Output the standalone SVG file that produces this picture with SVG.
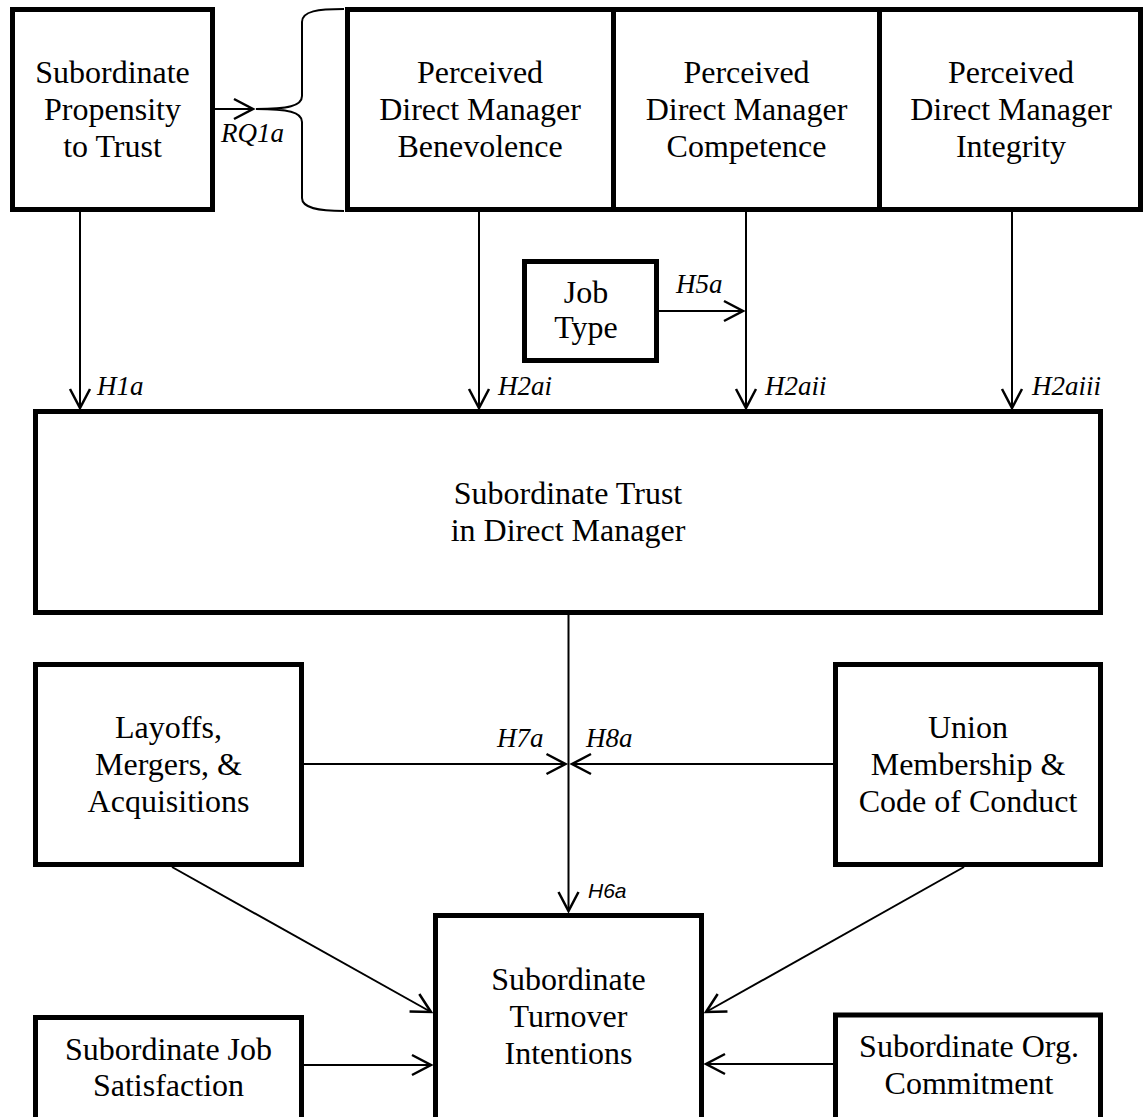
<svg xmlns="http://www.w3.org/2000/svg" width="1145" height="1117" viewBox="0 0 1145 1117">
  <defs>
    <style>
      .box { fill: #ffffff; stroke: #000000; stroke-width: 5; }
      .node-text { font-family: "Liberation Serif", "Times New Roman", serif; font-size: 32px; fill: #000000; text-anchor: middle; }
      .edge { stroke: #000000; stroke-width: 2; fill: none; }
      .label { font-family: "Liberation Serif", "Times New Roman", serif; font-style: italic; font-size: 27px; fill: #000000; }
      .label-sans { font-family: "Liberation Sans", Arial, sans-serif; font-style: italic; font-size: 21px; fill: #000000; }
    </style>
    <marker id="open-arrow" markerUnits="userSpaceOnUse" viewBox="-22 -12 24 24" markerWidth="24" markerHeight="24" refX="0" refY="0" orient="auto" overflow="visible">
      <path d="M -19 -10 L 0 0 L -19 10" fill="none" stroke="#000000" stroke-width="2.5"/>
    </marker>
  </defs>

  <rect width="1145" height="1117" fill="#ffffff"/>

  <!-- nodes -->
  <g id="propensity">
    <rect class="box" x="12.5" y="9.5" width="200" height="200"/>
    <text class="node-text" x="112.5" y="83">Subordinate</text>
    <text class="node-text" x="112.5" y="120">Propensity</text>
    <text class="node-text" x="112.5" y="157">to Trust</text>
  </g>

  <g id="benevolence">
    <rect class="box" x="347.5" y="9.5" width="266" height="200"/>
    <text class="node-text" x="480" y="83">Perceived</text>
    <text class="node-text" x="480" y="120">Direct Manager</text>
    <text class="node-text" x="480" y="157">Benevolence</text>
  </g>

  <g id="competence">
    <rect class="box" x="613.5" y="9.5" width="266" height="200"/>
    <text class="node-text" x="746.5" y="83">Perceived</text>
    <text class="node-text" x="746.5" y="120">Direct Manager</text>
    <text class="node-text" x="746.5" y="157">Competence</text>
  </g>

  <g id="integrity">
    <rect class="box" x="879.5" y="9.5" width="261" height="200"/>
    <text class="node-text" x="1011" y="83">Perceived</text>
    <text class="node-text" x="1011" y="120">Direct Manager</text>
    <text class="node-text" x="1011" y="157">Integrity</text>
  </g>

  <g id="job-type">
    <rect class="box" x="524.5" y="261.5" width="132" height="99"/>
    <text class="node-text" x="586" y="303">Job</text>
    <text class="node-text" x="586" y="338">Type</text>
  </g>

  <g id="trust">
    <rect class="box" x="35.5" y="411.5" width="1065" height="201"/>
    <text class="node-text" x="568" y="504">Subordinate Trust</text>
    <text class="node-text" x="568" y="541">in Direct Manager</text>
  </g>

  <g id="layoffs">
    <rect class="box" x="35.5" y="664.5" width="266" height="200"/>
    <text class="node-text" x="168.5" y="738">Layoffs,</text>
    <text class="node-text" x="168.5" y="775">Mergers, &amp;</text>
    <text class="node-text" x="168.5" y="812">Acquisitions</text>
  </g>

  <g id="union">
    <rect class="box" x="835.5" y="664.5" width="265" height="200"/>
    <text class="node-text" x="968" y="738">Union</text>
    <text class="node-text" x="968" y="775">Membership &amp;</text>
    <text class="node-text" x="968" y="812">Code of Conduct</text>
  </g>

  <g id="turnover">
    <rect class="box" x="435.5" y="915.5" width="266" height="215"/>
    <text class="node-text" x="568.5" y="990">Subordinate</text>
    <text class="node-text" x="568.5" y="1027">Turnover</text>
    <text class="node-text" x="568.5" y="1064">Intentions</text>
  </g>

  <g id="job-satisfaction">
    <rect class="box" x="35.5" y="1017.5" width="266" height="115"/>
    <text class="node-text" x="168.5" y="1060">Subordinate Job</text>
    <text class="node-text" x="168.5" y="1096">Satisfaction</text>
  </g>

  <g id="org-commitment">
    <rect class="box" x="835.5" y="1015" width="265" height="115"/>
    <text class="node-text" x="969" y="1057">Subordinate Org.</text>
    <text class="node-text" x="969" y="1094">Commitment</text>
  </g>

  <!-- connectors -->
  <g id="connectors">
    <!-- brace grouping the three perceived-manager facets -->
    <path class="edge" d="M 344 9 C 318 9, 302 11, 302 22 L 302 96 C 302 106, 288 109, 256 109 C 288 109, 302 112, 302 122 L 302 198 C 302 208, 318 211, 344 211"/>
    <line class="edge" x1="215" y1="109" x2="253" y2="109" marker-end="url(#open-arrow)"/>

    <line class="edge" x1="80" y1="212" x2="80" y2="408" marker-end="url(#open-arrow)"/>
    <line class="edge" x1="479" y1="212" x2="479" y2="408" marker-end="url(#open-arrow)"/>
    <line class="edge" x1="746" y1="212" x2="746" y2="408" marker-end="url(#open-arrow)"/>
    <line class="edge" x1="1012" y1="212" x2="1012" y2="408" marker-end="url(#open-arrow)"/>

    <line class="edge" x1="659" y1="311" x2="743" y2="311" marker-end="url(#open-arrow)"/>

    <line class="edge" x1="568.5" y1="615" x2="568.5" y2="911" marker-end="url(#open-arrow)"/>
    <line class="edge" x1="304" y1="764" x2="565.5" y2="764" marker-end="url(#open-arrow)"/>
    <line class="edge" x1="833" y1="764" x2="572" y2="764" marker-end="url(#open-arrow)"/>

    <line class="edge" x1="172" y1="867" x2="431" y2="1012" marker-end="url(#open-arrow)"/>
    <line class="edge" x1="964" y1="867" x2="706" y2="1012" marker-end="url(#open-arrow)"/>

    <line class="edge" x1="304" y1="1065" x2="431" y2="1065" marker-end="url(#open-arrow)"/>
    <line class="edge" x1="833" y1="1064" x2="706" y2="1064" marker-end="url(#open-arrow)"/>

    <!-- path labels -->
    <text class="label" x="221" y="142">RQ1a</text>
    <text class="label" x="97" y="395">H1a</text>
    <text class="label" x="498" y="395">H2ai</text>
    <text class="label" x="765" y="395">H2aii</text>
    <text class="label" x="1032" y="395">H2aiii</text>
    <text class="label" x="676" y="293">H5a</text>
    <text class="label" x="497" y="747">H7a</text>
    <text class="label" x="586" y="747">H8a</text>
    <text class="label-sans" x="588" y="898">H6a</text>
  </g>
</svg>
